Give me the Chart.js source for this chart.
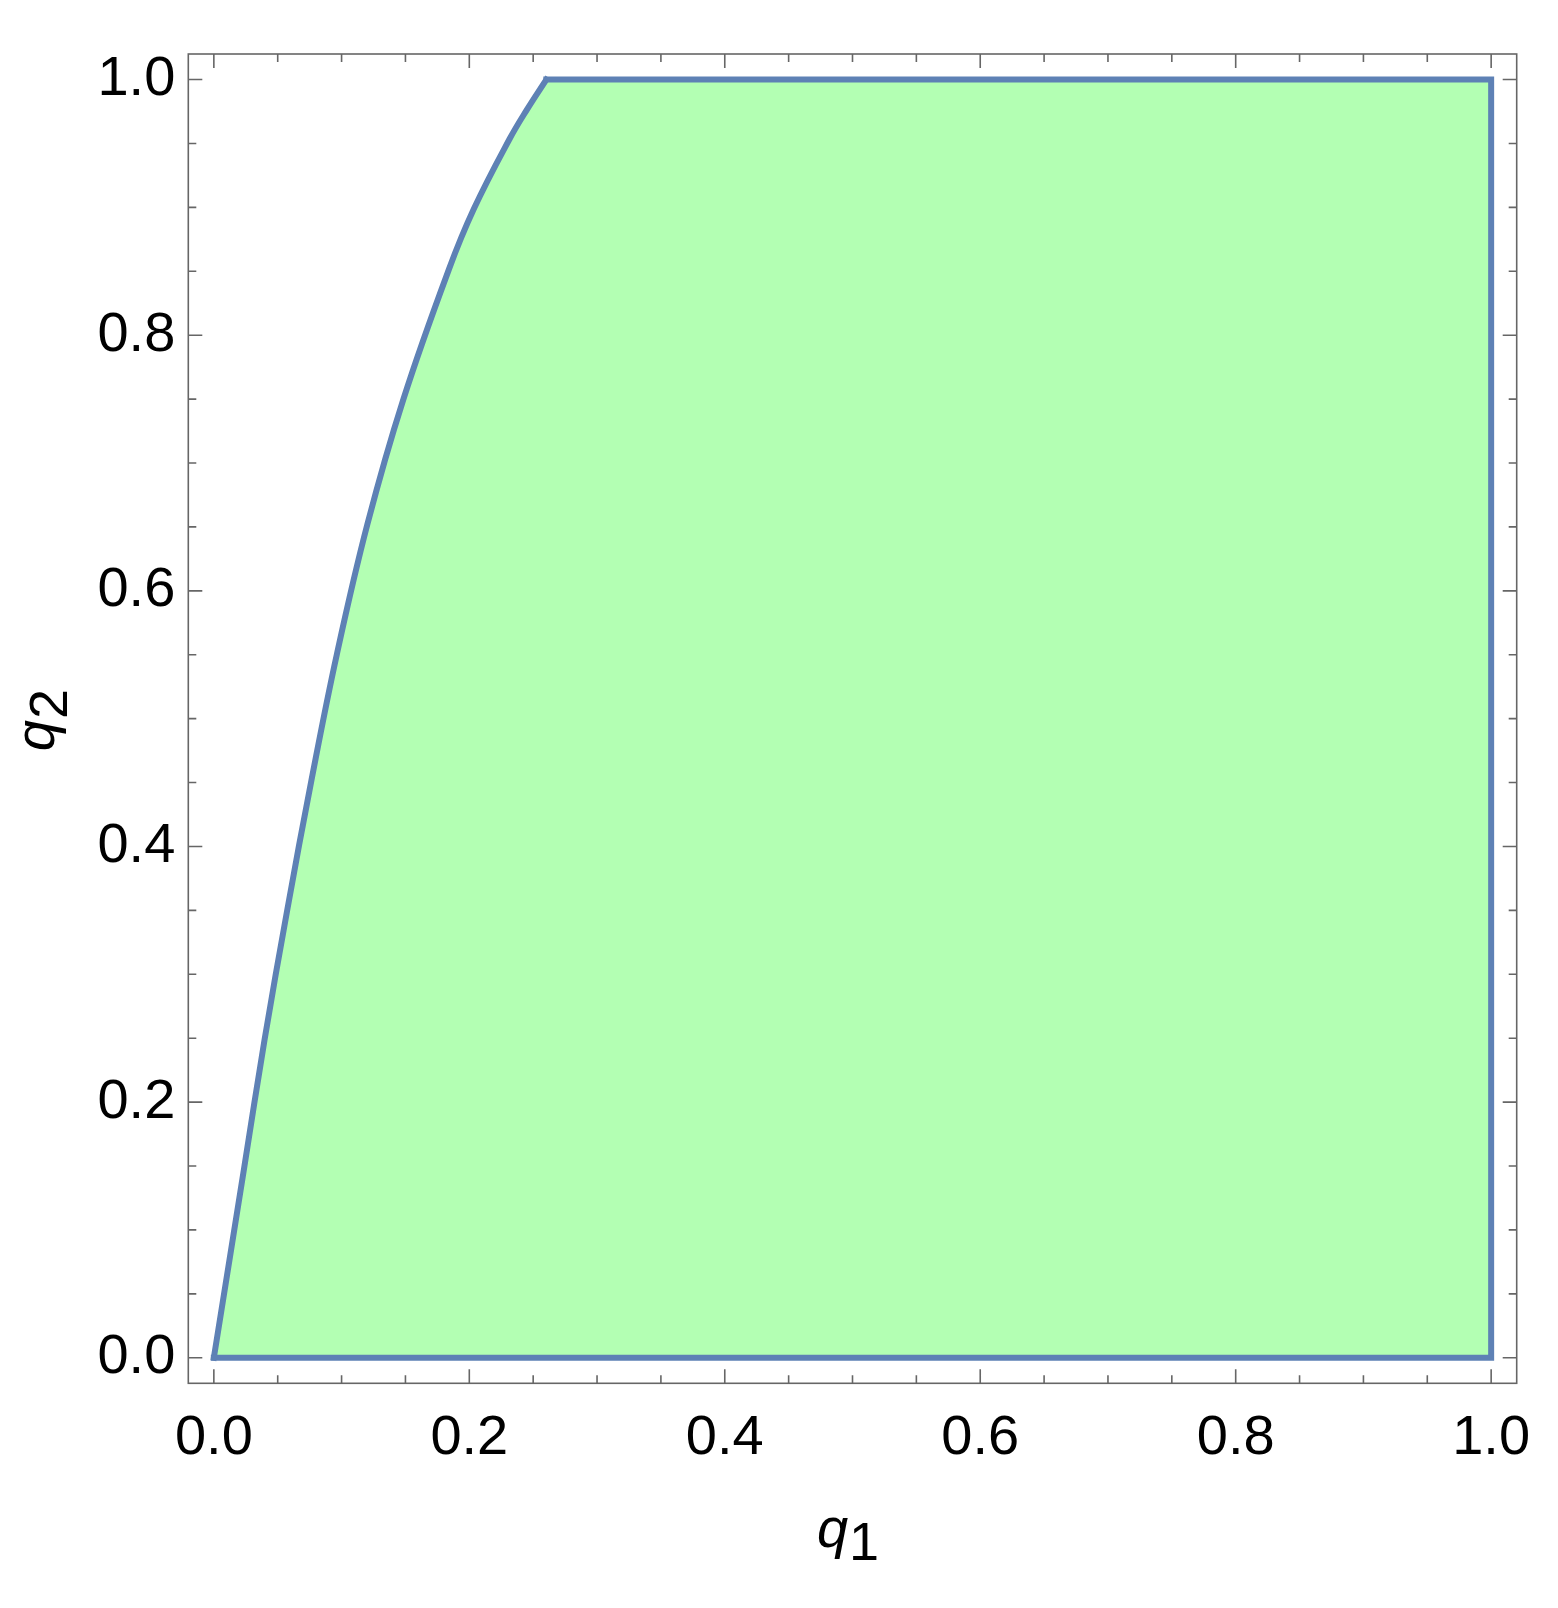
<!DOCTYPE html>
<html>
<head>
<meta charset="utf-8">
<script src="https://cdn.jsdelivr.net/npm/chart.js@4.4.0/dist/chart.umd.min.js"></script>
<style>
  html, body { margin: 0; padding: 0; background: #fff; }
</style>
</head>
<body>
<canvas id="myChart" width="1558" height="1608"></canvas>
<script>
// boundary of the region
const q1Curve = [0, 0.0235, 0.0397, 0.0575, 0.0765, 0.0963, 0.1202, 0.1484, 0.1841, 0.2035, 0.2315, 0.2455, 0.2603];
const q2Curve = [0, 0.147, 0.2488, 0.3505, 0.4523, 0.5503, 0.652, 0.7499, 0.8517, 0.8987, 0.9535, 0.9771, 1.0];
// straight edges: top corner -> (1,1) -> (1,0) -> (0,0)
const q1Edges = [0.2603, 1, 1, 0];
const q2Edges = [1, 1, 0, 0];

// ticks every 0.05, labelled every 0.2
const tickValues = [0, 0.05, 0.1, 0.15, 0.2, 0.25, 0.3, 0.35, 0.4, 0.45, 0.5,
  0.55, 0.6, 0.65, 0.7, 0.75, 0.8, 0.85, 0.9, 0.95, 1.0];
const tickLabels = ["0.0", "", "", "", "0.2", "", "", "", "0.4", "", "", "", "0.6", "", "", "", "0.8", "", "", "", "1.0"];

const curvePts = q1Curve.map((v, i) => ({ x: v, y: q2Curve[i] }));
const edgePts = q1Edges.map((v, i) => ({ x: v, y: q2Edges[i] }));
// chord polygon (origin -> top corner -> edges) used only for the fill
const polyPts = [curvePts[0]].concat(edgePts);

const FILL = "rgb(179, 255, 179)";
const STROKE = "rgb(94, 129, 181)";
const FONT = '"Liberation Sans", Arial, sans-serif';

const frameTicks = {
  id: "frameTicks",
  afterDraw(chart) {
    const { ctx, chartArea: a, scales } = chart;
    const xs = scales.x;
    const ys = scales.y;
    ctx.save();
    ctx.strokeStyle = "#666";
    ctx.lineWidth = 1.6;
    ctx.strokeRect(a.left, a.top, a.right - a.left, a.bottom - a.top);
    ctx.beginPath();
    tickValues.forEach((v, i) => {
      const len = i % 4 === 0 ? 14 : 8;
      const px = xs.getPixelForValue(v);
      ctx.moveTo(px, a.bottom); ctx.lineTo(px, a.bottom - len);
      ctx.moveTo(px, a.top); ctx.lineTo(px, a.top + len);
      const py = ys.getPixelForValue(v);
      ctx.moveTo(a.left, py); ctx.lineTo(a.left + len, py);
      ctx.moveTo(a.right, py); ctx.lineTo(a.right - len, py);
    });
    ctx.stroke();

    // axis titles: italic q with upright subscript
    ctx.fillStyle = "#000";
    ctx.textBaseline = "alphabetic";
    ctx.textAlign = "left";
    const drawLabel = (sub) => {
      ctx.font = "italic 56px " + FONT;
      const wq = ctx.measureText("q").width;
      ctx.font = "54px " + FONT;
      const ws = ctx.measureText(sub).width;
      const x0 = -(wq + ws) / 2;
      ctx.font = "italic 56px " + FONT;
      ctx.fillText("q", x0, 0);
      ctx.font = "54px " + FONT;
      ctx.fillText(sub, x0 + wq + 1, 13);
    };
    const cx = (a.left + a.right) / 2;
    const cy = (a.top + a.bottom) / 2;
    ctx.save();
    ctx.translate(cx - 5, 1547);
    drawLabel("1");
    ctx.restore();
    ctx.save();
    ctx.translate(54, cy + 2);
    ctx.rotate(-Math.PI / 2);
    drawLabel("2");
    ctx.restore();
    ctx.restore();
  },
};

const tickSetup = {
  min: -0.02,
  max: 1.02,
  afterBuildTicks: (scale) => {
    scale.ticks = tickValues.map((v) => ({ value: v }));
  },
  grid: { display: false, drawTicks: false },
  border: { display: false },
};

new Chart(document.getElementById("myChart"), {
  type: "scatter",
  data: {
    datasets: [
      {
        // curved boundary, region lies below it
        data: curvePts,
        showLine: true,
        tension: 0.4,
        fill: "origin",
        backgroundColor: FILL,
        borderColor: STROKE,
        borderWidth: 6,
        borderCapStyle: "square",
        pointRadius: 0,
        order: 1,
      },
      {
        // rest of the region, fill only
        data: polyPts,
        showLine: true,
        tension: 0,
        fill: "shape",
        backgroundColor: FILL,
        borderWidth: 0,
        pointRadius: 0,
        order: 3,
      },
      {
        // straight edges
        data: edgePts,
        showLine: true,
        tension: 0,
        fill: false,
        borderColor: STROKE,
        borderWidth: 6,
        borderJoinStyle: "miter",
        borderCapStyle: "square",
        pointRadius: 0,
        order: 0,
      },
    ],
  },
  options: {
    responsive: false,
    animation: false,
    layout: { padding: { top: 54, right: 41.3, left: 0, bottom: 0 } },
    plugins: {
      legend: { display: false },
      tooltip: { enabled: false },
    },
    scales: {
      x: {
        type: "linear",
        ...tickSetup,
        afterFit: (scale) => { scale.height = 224.7; },
        ticks: {
          autoSkip: false,
          maxRotation: 0,
          padding: 22,
          color: "#000",
          font: { family: FONT, size: 56 },
          callback: (v, i) => tickLabels[i],
        },
      },
      y: {
        type: "linear",
        ...tickSetup,
        afterFit: (scale) => { scale.width = 188.3; },
        ticks: {
          autoSkip: false,
          padding: 13,
          color: "#000",
          font: { family: FONT, size: 56 },
          callback: (v, i) => tickLabels[i],
        },
      },
    },
  },
  plugins: [frameTicks],
});
</script>
</body>
</html>
